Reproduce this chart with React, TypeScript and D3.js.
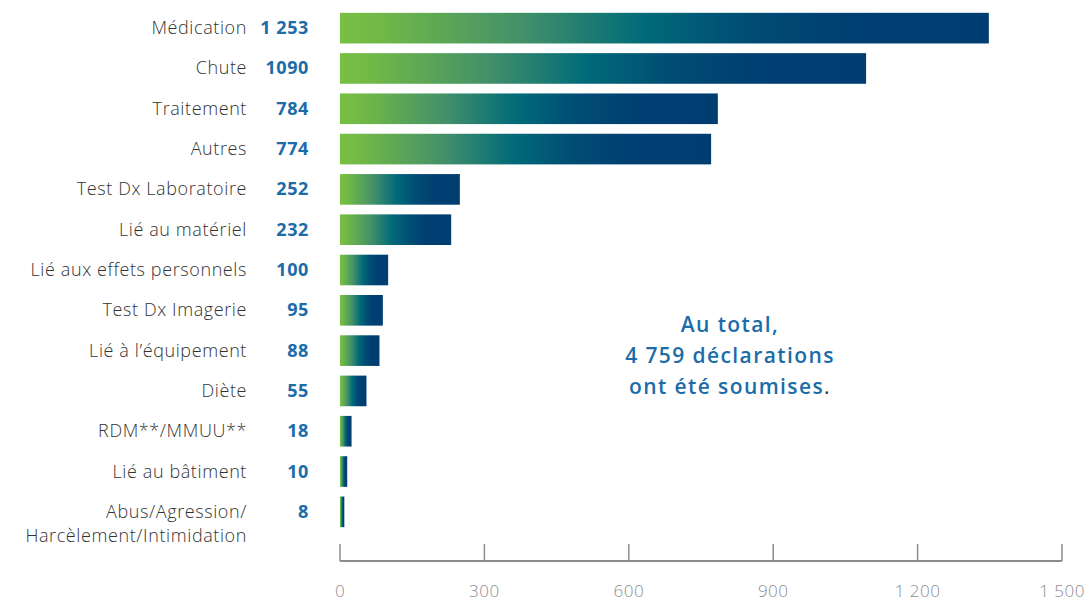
import React from 'react';
import * as d3 from 'd3';

const categories = [
  'Médication', 'Chute', 'Traitement', 'Autres', 'Test Dx Laboratoire',
  'Lié au matériel', 'Lié aux effets personnels', 'Test Dx Imagerie',
  'Lié à l\u2019équipement', 'Diète', 'RDM**/MMUU**', 'Lié au bâtiment',
  'Abus/Agression/\nHarcèlement/Intimidation',
];
const countLabels = ['1 253', '1090', '784', '774', '252', '232', '100', '95', '88', '55', '18', '10', '8'];
// bar lengths as drawn in the reference
const barValues = [1348, 1093, 785, 771, 249, 231, 100, 89, 82, 55, 24, 15, 9];
const xTicks = [0, 300, 600, 900, 1200, 1500];
const tickLabels = ['0', '300', '600', '900', '1 200', '1 500'];
const totalLines = ['Au total,', '4 759 déclarations', 'ont été soumises'];

const W = 1091;
const H = 602;
const font = '"Open Sans", Lato, sans-serif';

export default function App() {
  const x = d3.scaleLinear().domain([0, 1500]).range([340, 1062]);
  const y = d3.scaleBand<number>()
    .domain(d3.range(categories.length))
    .range([8, 532])
    .paddingInner(0.24)
    .paddingOuter(0.12);
  const axisY = 561;

  return (
    <svg width={W} height={H} style={{ position: 'absolute', left: 0, top: 0 }}>
      <defs>
        <linearGradient id="barGrad" x1="0" x2="1" y1="0" y2="0">
          <stop offset="0" stopColor="#78c043" />
          <stop offset="0.06" stopColor="#71b946" />
          <stop offset="0.28" stopColor="#43906a" />
          <stop offset="0.47" stopColor="#006a79" />
          <stop offset="0.62" stopColor="#004e74" />
          <stop offset="0.78" stopColor="#003f72" />
          <stop offset="1" stopColor="#003e71" />
        </linearGradient>
      </defs>

      {categories.map((c, i) => {
        const yc = y(i)! + y.bandwidth() / 2;
        const lines = c.split('\n');
        return (
          <g key={c}>
            <rect x={x(0)} y={y(i)} width={x(barValues[i]) - x(0)} height={y.bandwidth()} fill="url(#barGrad)" />
            {lines.map((l, j) => (
              <text key={j} x={247} y={yc + 6 + j * 24} textAnchor="end" fontFamily={font} fontSize={18} fontWeight={300} letterSpacing={0.6} fill="#333">{l}</text>
            ))}
            <text x={309} y={yc + 6} textAnchor="end" fontFamily={font} fontSize={18} fontWeight={700} letterSpacing={0.6} fill="#1b6ca8">{countLabels[i]}</text>
          </g>
        );
      })}

      <line x1={x(0)} x2={x(1500)} y1={axisY} y2={axisY} stroke="#8a8c8e" strokeWidth={2} />
      {xTicks.map((t, i) => (
        <g key={t}>
          <line x1={x(t)} x2={x(t)} y1={axisY} y2={axisY - 17} stroke="#8a8c8e" strokeWidth={1.5} />
          <text x={x(t)} y={597} textAnchor="middle" fontFamily={font} fontSize={17} fontWeight={300} letterSpacing={0.5} fill="#8a8c8e">{tickLabels[i]}</text>
        </g>
      ))}

      {totalLines.map((l, i) => (
        <text key={i} x={730} y={332 + i * 31} textAnchor="middle" fontFamily={font} fontSize={21} fontWeight={600} letterSpacing={1.4} fill="#1b6ca8">
          {l}
          {i === 2 && <tspan fontWeight={400} fill="#333">.</tspan>}
        </text>
      ))}
    </svg>
  );
}
